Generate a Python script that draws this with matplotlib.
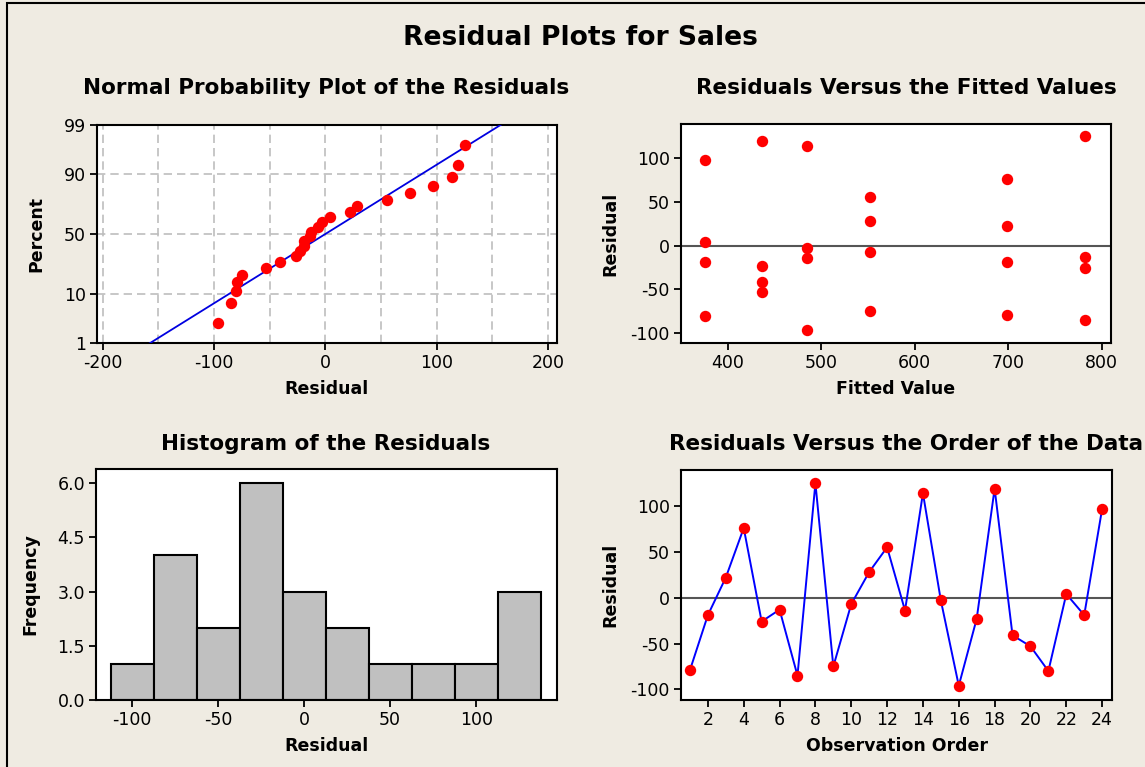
import math
import numpy as np
import matplotlib
matplotlib.use("Agg")
import matplotlib.pyplot as plt
from matplotlib.patches import Rectangle

# ---------------- data ----------------
observation = list(range(1, 25))
residuals = [-79, -19, 22, 76, -26, -13, -85, 125, -75, -7, 28, 55,
             -14, 114, -3, -96, -23, 119, -41, -53, -80, 4, -19, 97]
fitted = [699, 699, 699, 699, 782, 782, 782, 782, 552, 552, 552, 552,
          485, 485, 485, 485, 437, 437, 437, 437, 376, 376, 376, 376]
hist_edges = [-112.5, -87.5, -62.5, -37.5, -12.5, 12.5, 37.5, 62.5, 87.5, 112.5, 137.5]
line_mean = 0.0
line_sd = 67.6

prob_ticks = [1, 10, 50, 90, 99]
npp_xticks = [-200, -100, 0, 100, 200]
fit_xticks = [400, 500, 600, 700, 800]
res_yticks = [-100, -50, 0, 50, 100]
hist_xticks = [-100, -50, 0, 50, 100]
hist_yticks = [0.0, 1.5, 3.0, 4.5, 6.0]
order_xticks = list(range(2, 25, 2))

# ---------------- helpers ----------------
def _ppf_scalar(p):
    # Acklam inverse normal approximation
    a = [-3.969683028665376e+01, 2.209460984245205e+02, -2.759285104469687e+02,
         1.383577518672690e+02, -3.066479806614716e+01, 2.506628277459239e+00]
    b = [-5.447609879822406e+01, 1.615858368580409e+02, -1.556989798598866e+02,
         6.680131188771972e+01, -1.328068155288572e+01]
    c = [-7.784894002430293e-03, -3.223964580411365e-01, -2.400758277161838e+00,
         -2.549732539343734e+00, 4.374664141464968e+00, 2.938163982698783e+00]
    d = [7.784695709041462e-03, 3.224671290700398e-01, 2.445134137142996e+00,
         3.754408661907416e+00]
    p = min(max(p, 1e-12), 1 - 1e-12)
    plow = 0.02425
    if p < plow:
        q = math.sqrt(-2 * math.log(p))
        return (((((c[0]*q+c[1])*q+c[2])*q+c[3])*q+c[4])*q+c[5]) / \
               ((((d[0]*q+d[1])*q+d[2])*q+d[3])*q+1)
    if p > 1 - plow:
        q = math.sqrt(-2 * math.log(1 - p))
        return -(((((c[0]*q+c[1])*q+c[2])*q+c[3])*q+c[4])*q+c[5]) / \
                ((((d[0]*q+d[1])*q+d[2])*q+d[3])*q+1)
    q = p - 0.5
    r = q * q
    return (((((a[0]*r+a[1])*r+a[2])*r+a[3])*r+a[4])*r+a[5])*q / \
           (((((b[0]*r+b[1])*r+b[2])*r+b[3])*r+b[4])*r+1)

def pct_to_z(pct):
    arr = np.asarray(pct, dtype=float)
    out = np.array([_ppf_scalar(v / 100.0) for v in arr.ravel()])
    return out.reshape(arr.shape)

def z_to_pct(z):
    arr = np.asarray(z, dtype=float)
    out = np.array([50.0 * (1 + math.erf(v / math.sqrt(2))) for v in arr.ravel()])
    return out.reshape(arr.shape)

# ---------------- style ----------------
BG = "#EFEBE2"
FONT = "DejaVu Sans"
plt.rcParams["font.family"] = [FONT]
plt.rcParams["axes.unicode_minus"] = False
TICK_FS = 12.5
LABEL_FS = 12.5
TITLE_FS = 15.5
RED = "#FF0000"
BLUE = "#0000FF"
MS = 8.2

fig = plt.figure(figsize=(11.45, 7.67), dpi=100, facecolor=BG)
W, H = 1145.0, 767.0

def px_axes(x0, y0, x1, y1):
    return fig.add_axes([x0 / W, (H - y1) / H, (x1 - x0) / W, (y1 - y0) / H])

def style(ax):
    ax.set_facecolor("white")
    for s in ax.spines.values():
        s.set_linewidth(1.5)
        s.set_color("black")
    ax.tick_params(direction="out", length=5, width=1.3, labelsize=TICK_FS,
                   colors="black", pad=3)

# border of the whole window
fig.patches.append(Rectangle((7 / W, -0.1), 1.2, (H - 3) / H + 0.1,
                             transform=fig.transFigure, fill=False,
                             edgecolor="black", linewidth=1.5))

fig.text(580 / W, 1 - 38 / H, "Residual Plots for Sales", ha="center", va="center",
         fontsize=19.2, fontweight="bold")

# ---------------- Normal probability plot ----------------
ax1 = px_axes(97, 125, 557, 343)
style(ax1)
ax1.set_yscale("function", functions=(pct_to_z, z_to_pct))
n = len(residuals)
sorted_res = np.sort(residuals)
ranks = np.arange(1, n + 1)
plot_pct = (ranks - 0.3) / (n + 0.4) * 100
line_pct = np.linspace(0.5, 99.5, 200)
line_x = line_mean + line_sd * pct_to_z(line_pct)
ax1.plot(line_x, line_pct, color="#0000E0", linewidth=1.3, zorder=3)
ax1.plot(sorted_res, plot_pct, "o", color=RED, markersize=MS, markeredgewidth=0, zorder=4)
ax1.set_xlim(-205, 208)
ax1.set_ylim(1, 99)
ax1.set_xticks(npp_xticks)
ax1.set_yticks(prob_ticks)
ax1.set_yticklabels([str(t) for t in prob_ticks])
ax1.yaxis.set_minor_locator(matplotlib.ticker.NullLocator())
for gx in range(-200, 201, 50):
    ax1.axvline(gx, color="#BDBDBD", linestyle=(0, (5, 3)), linewidth=1.2, zorder=1)
for gy in [10, 50, 90]:
    ax1.axhline(gy, color="#BDBDBD", linestyle=(0, (5, 3)), linewidth=1.2, zorder=1)
ax1.set_xlabel("Residual", fontsize=LABEL_FS, fontweight="bold", labelpad=6)
ax1.set_ylabel("Percent", fontsize=LABEL_FS, fontweight="bold", labelpad=13)
fig.text(326 / W, 1 - 88 / H, "Normal Probability Plot of the Residuals",
         ha="center", va="center", fontsize=TITLE_FS, fontweight="bold")

# ---------------- Residuals vs fitted ----------------
ax2 = px_axes(681, 124, 1111, 343)
style(ax2)
ax2.axhline(0, color="#555555", linewidth=1.5, zorder=1)
ax2.plot(fitted, residuals, "o", color=RED, markersize=MS, markeredgewidth=0, zorder=3)
ax2.set_xlim(350, 810)
ax2.set_ylim(-111, 138.5)
ax2.set_xticks(fit_xticks)
ax2.set_yticks(res_yticks)
ax2.set_xlabel("Fitted Value", fontsize=LABEL_FS, fontweight="bold", labelpad=6)
ax2.set_ylabel("Residual", fontsize=LABEL_FS, fontweight="bold", labelpad=8)
fig.text(906 / W, 1 - 88 / H, "Residuals Versus the Fitted Values",
         ha="center", va="center", fontsize=TITLE_FS, fontweight="bold")

# ---------------- Histogram ----------------
ax3 = px_axes(96, 469, 557, 700)
style(ax3)
ax3.hist(residuals, bins=hist_edges, color="#C0C0C0", edgecolor="black", linewidth=1.5)
ax3.set_xlim(-121, 147)
ax3.set_ylim(0, 6.39)
ax3.set_xticks(hist_xticks)
ax3.set_yticks(hist_yticks)
ax3.set_yticklabels([f"{t:.1f}" for t in hist_yticks])
ax3.set_xlabel("Residual", fontsize=LABEL_FS, fontweight="bold", labelpad=6)
ax3.set_ylabel("Frequency", fontsize=LABEL_FS, fontweight="bold", labelpad=13)
fig.text(326 / W, 1 - 444 / H, "Histogram of the Residuals",
         ha="center", va="center", fontsize=TITLE_FS, fontweight="bold")

# ---------------- Residuals vs order ----------------
ax4 = px_axes(681, 470, 1112, 700)
style(ax4)
ax4.axhline(0, color="#555555", linewidth=1.5, zorder=1)
ax4.plot(observation, residuals, "-", color=BLUE, linewidth=1.4, zorder=2)
ax4.plot(observation, residuals, "o", color=RED, markersize=MS, markeredgewidth=0, zorder=3)
ax4.set_xlim(0.5, 24.55)
ax4.set_ylim(-111.6, 139.3)
ax4.set_xticks(order_xticks)
ax4.set_yticks(res_yticks)
ax4.set_xlabel("Observation Order", fontsize=LABEL_FS, fontweight="bold", labelpad=6)
ax4.set_ylabel("Residual", fontsize=LABEL_FS, fontweight="bold", labelpad=8)
fig.text(906 / W, 1 - 444 / H, "Residuals Versus the Order of the Data",
         ha="center", va="center", fontsize=TITLE_FS, fontweight="bold")

fig.savefig("out.png", dpi=100, facecolor=BG)
